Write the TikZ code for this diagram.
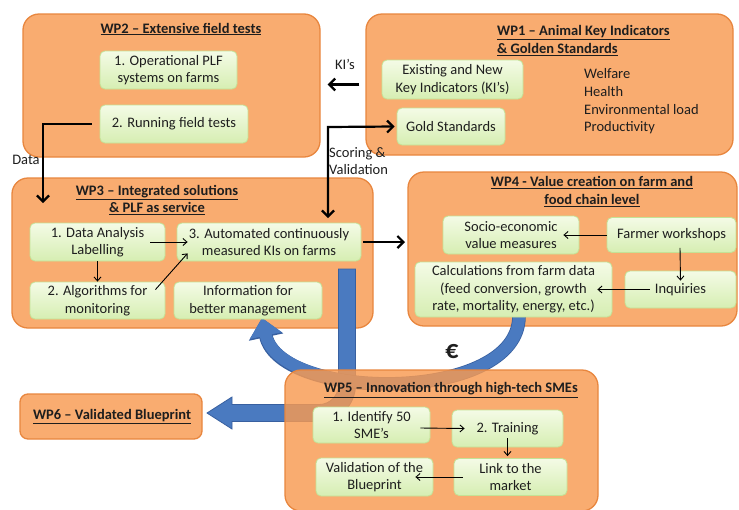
\documentclass[tikz,border=0pt]{standalone}
\usepackage{fontspec}
\setmainfont{Carlito}
\usetikzlibrary{arrows.meta}
\definecolor{wporange}{RGB}{249,172,112}
\definecolor{wpfive}{RGB}{248,154,81}
\definecolor{wpborder}{RGB}{232,134,62}
\definecolor{gtop}{RGB}{244,251,230}
\definecolor{gbot}{RGB}{214,238,178}
\definecolor{gborder}{RGB}{196,226,150}
\definecolor{blu}{RGB}{74,122,192}
\definecolor{bluborder}{RGB}{56,96,160}
\definecolor{ink}{RGB}{30,30,30}
\begin{document}
\begin{tikzpicture}[x=1pt,y=-1pt,
  wp/.style={draw=wpborder, line width=1.3pt, fill=wporange, rounded corners=16pt, inner sep=0pt},
  inbox/.style={draw=gborder, line width=0.8pt, top color=gtop, bottom color=gbot, rounded corners=5pt,
                align=center, inner sep=0pt, text=ink, font=\fontsize{14.5}{17.5}\selectfont},
  txt/.style={font=\fontsize{14.5}{17.5}\selectfont, text=ink, align=center, inner sep=0pt},
  ttl/.style={font=\fontsize{14.5}{17.5}\selectfont\bfseries, text=ink, align=center, inner sep=0pt},
  blk/.style={-{Straight Barb[length=6pt,width=12pt,line width=2.2pt]}, line width=2.2pt},
  thinarr/.style={-{Straight Barb[length=4pt,width=7pt]}, line width=0.9pt}]
\useasboundingbox (0,0) rectangle (739,509);

% ---------- WP boxes ----------
\node[wp, minimum width=297pt, minimum height=143pt] (wp2) at (171.5,85.5) {};
\node[wp, minimum width=367pt, minimum height=141pt] (wp1) at (549.5,84.5) {};
\node[wp, minimum width=361pt, minimum height=150pt] (wp3) at (192.5,253) {};
\node[wp, minimum width=329pt, minimum height=154pt] (wp4) at (572.5,249) {};
\node[wp, minimum width=182pt, minimum height=45pt, rounded corners=8pt] (wp6) at (111,416.5) {};

% ---------- titles ----------
\node[ttl] (t2) at (181,29) {\underline{WP2 – Extensive field tests}};
\node[ttl, anchor=west, align=left] (t1) at (497,40.5) {\underline{WP1 – Animal Key Indicators}\\\underline{\& Golden Standards}};
\node[ttl] (t3) at (157,200) {\underline{WP3 – Integrated solutions}\\\underline{\& PLF as service}};
\node[ttl] (t4) at (592,191.5) {\underline{WP4 - Value creation on farm and}\\\underline{food chain level}};
\node[ttl] (t6) at (112,417) {\underline{WP6 – Validated Blueprint}};

% ---------- blue arrows ----------
\draw[fill=blu, draw=bluborder, line width=0.8pt]
  (338.5,269) -- (355.5,269) -- (355.5,385)
  .. controls (355.5,405.1) and (339.1,421.5) .. (319,421.5)
  -- (232,421.5) -- (232,429) -- (207,413) -- (232,397) -- (232,404.5) -- (319,404.5)
  .. controls (329.8,404.5) and (338.5,395.8) .. (338.5,385) -- cycle;
\draw[bluborder, line width=13.6pt, -{Triangle[length=19.5pt,width=34pt]}]
  (519,316) .. controls (519,404) and (280,402) .. (262,318);
\draw[blu, line width=12pt, -{Triangle[length=18pt,width=31.5pt]}]
  (519,316) .. controls (519,404) and (280,402) .. (262,318);

% ---------- WP2 inner ----------
\node[inbox, minimum width=137pt, minimum height=38pt] (i21) at (168.5,70) {1. Operational PLF\\systems on farms};
\node[inbox, minimum width=148pt, minimum height=38pt] (i22) at (174,124) {2. Running field tests};

% ---------- WP1 inner ----------
\node[inbox, minimum width=141pt, minimum height=39pt] (i11) at (452.5,79.5) {Existing and New\\Key Indicators (KI’s)};
\node[inbox, minimum width=108pt, minimum height=37pt] (i12) at (451,126.5) {Gold Standards};
\node[txt, anchor=west, align=left, font=\fontsize{14.5}{17.7}\selectfont] (list) at (584,101.5)
  {Welfare\\Health\\Environmental load\\Productivity};

% ---------- WP3 inner ----------
\node[inbox, minimum width=135pt, minimum height=38pt] (i31) at (97.5,242) {1. Data Analysis\\Labelling};
\node[inbox, minimum width=184pt, minimum height=38pt] (i33) at (269,242) {3. Automated continuously\\measured KIs on farms};
\node[inbox, minimum width=135pt, minimum height=37pt] (i32) at (97.5,300.5) {2. Algorithms for\\monitoring};
\node[inbox, minimum width=148pt, minimum height=37pt] (i34) at (248,300.5) {Information for\\better management};

% ---------- WP4 inner ----------
\node[inbox, minimum width=136pt, minimum height=38pt] (i41) at (511,235) {Socio-economic\\value measures};
\node[inbox, minimum width=129pt, minimum height=35pt] (i42) at (671.5,235) {Farmer workshops};
\node[inbox, minimum width=197pt, minimum height=55pt] (i43) at (513.5,289.5) {Calculations from farm data\\(feed conversion, growth\\rate, mortality, energy, etc.)};
\node[inbox, minimum width=111pt, minimum height=37pt] (i44) at (680.5,289.5) {Inquiries};

% ---------- WP5 ----------
\node[wp, fill=wpfive, fill opacity=0.82, minimum width=313pt, minimum height=141pt] (wp5) at (441.5,440.5) {};
\node[ttl] (t5) at (451,390) {\underline{WP5 – Innovation through high-tech SMEs}};
\node[inbox, minimum width=117pt, minimum height=36pt] (i51) at (371.5,425) {1. Identify 50\\SME’s};
\node[inbox, minimum width=111pt, minimum height=37pt] (i52) at (507.5,428.5) {2. Training};
\node[inbox, minimum width=117pt, minimum height=38pt] (i53) at (374.5,477) {Validation of the\\Blueprint};
\node[inbox, minimum width=113pt, minimum height=37pt] (i54) at (510.5,477) {Link to the\\market};

% ---------- labels ----------
\node[txt] (lki) at (345,64) {KI’s};
\node[txt] (ldata) at (26,160) {Data};
\node[txt, anchor=west, align=left] (lsv) at (329,161) {Scoring \&\\Validation};
\node[font=\fontsize{26}{28}\selectfont\bfseries, text=ink, inner sep=0pt] (eur) at (452,352) {€};

% ---------- black arrows ----------
\coordinate (svc) at (328,127);
\coordinate (svd) at (328,218);
\coordinate (dataend) at (43,203);
\coordinate (c34) at (405,242);
\draw[blk] ([xshift=-6pt]wp1.west) -- ([xshift=7pt]wp2.east |- wp1.west);
\draw[line width=2.2pt,
  {Straight Barb[length=6pt,width=12pt,line width=2.2pt]}-{Straight Barb[length=6pt,width=12pt,line width=2.2pt]}]
  ([xshift=-2pt]i12.west) -- (svc) -- (svd);
\draw[blk] ([xshift=-8pt]i22.west) -| (dataend);
\draw[blk] ([xshift=2pt]i33.east) -- (c34);

\draw[thinarr] ([xshift=-15pt]i31.east) -- ([xshift=11pt]i33.west);
\draw[thinarr] (i31.south) -- (i32.north);
\draw[thinarr] ([xshift=-10pt,yshift=-8pt]i32.north east) -- ([xshift=11pt,yshift=8pt]i33.south west);

\draw[thinarr] (i42.west) -- ([xshift=-16pt]i41.east);
\draw[thinarr] ([xshift=8.5pt,yshift=5pt]i42.south) -- ([yshift=-10pt]i44.north);
\draw[thinarr] ([xshift=25pt]i44.west) -- ([xshift=-15pt]i43.east);

\draw[thinarr] ([xshift=-10pt,yshift=-3pt]i51.east) -- ([xshift=13pt]i52.west);
\draw[thinarr] ([yshift=9pt]i52.south) -- ([yshift=2pt]i52.south |- i54.north);
\draw[thinarr] ([xshift=9pt]i54.west) -- ([xshift=-18pt]i53.east);
\end{tikzpicture}
\end{document}
